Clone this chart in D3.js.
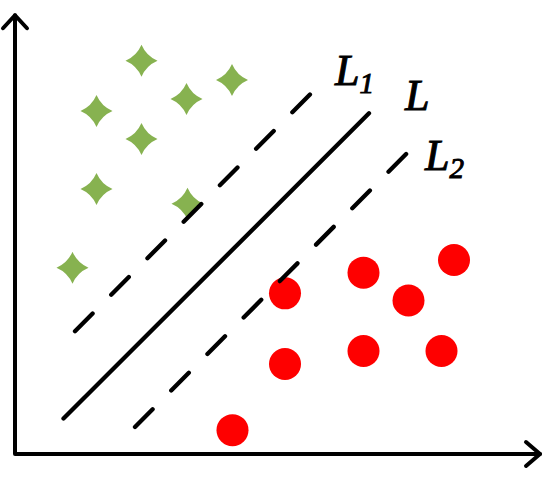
<html>
<head>
  <script src="https://cdnjs.cloudflare.com/ajax/libs/d3/7.8.5/d3.min.js"></script>
  <style>
    body { margin: 0; background: #fff; }
  </style>
</head>
<body>
  <svg id="chart" width="550" height="478"></svg>
  <script>
    // class A (green stars)
    var starX = [2.53, 4.34, 3.43, 1.63, 2.53, 1.63, 3.45, 1.15];
    var starY = [8.74, 8.31, 7.89, 7.62, 7.00, 5.89, 5.56, 4.14];
    // class B (red dots)
    var dotX = [5.40, 6.97, 5.40, 6.97, 4.35, 7.87, 8.78, 8.53];
    var dotY = [3.57, 4.03, 2.00, 2.29, 0.53, 3.41, 4.31, 2.29];
    // separating lines
    var lineNames = ["L1", "L", "L2"];
    var lineX1 = [1.20, 0.97, 2.40];
    var lineY1 = [2.73, 0.79, 0.60];
    var lineX2 = [5.92, 7.08, 7.86];
    var lineY2 = [8.01, 7.57, 6.71];
    var labelX = [6.40, 7.80, 8.20];
    var labelY = [8.20, 7.64, 6.31];
    var axisMaxX = 10.5, axisMaxY = 9.75;

    var svg = d3.select("#chart");
    var x = d3.scaleLinear().domain([0, 10]).range([15, 515]);
    var y = d3.scaleLinear().domain([0, 10]).range([454, 4]);

    // axes with arrow heads
    var axes = svg.append("g")
      .attr("fill", "none")
      .attr("stroke", "black")
      .attr("stroke-width", 4)
      .attr("stroke-linecap", "round")
      .attr("stroke-linejoin", "round");
    axes.append("path")
      .attr("d", "M" + x(0) + "," + y(0) + "V" + y(axisMaxY) + "M" + x(0) + "," + y(0) + "H" + x(axisMaxX));
    axes.append("path")
      .attr("d", "M" + (x(0) - 12) + "," + (y(axisMaxY) + 13) + "L" + x(0) + "," + y(axisMaxY) + "L" + (x(0) + 12) + "," + (y(axisMaxY) + 13));
    axes.append("path")
      .attr("d", "M" + (x(axisMaxX) - 14) + "," + (y(0) - 12) + "L" + x(axisMaxX) + "," + y(0) + "L" + (x(axisMaxX) - 14) + "," + (y(0) + 12));

    // four pointed star symbol
    var star4 = {
      draw: function (ctx, size) {
        var R = Math.sqrt(size), k = R * 0.3;
        ctx.moveTo(0, -R);
        ctx.quadraticCurveTo(k, -k, R, 0);
        ctx.quadraticCurveTo(k, k, 0, R);
        ctx.quadraticCurveTo(-k, k, -R, 0);
        ctx.quadraticCurveTo(-k, -k, 0, -R);
        ctx.closePath();
      }
    };

    svg.append("g").selectAll("path")
      .data(starX)
      .enter()
      .append("path")
      .attr("d", d3.symbol().type(star4).size(16 * 16))
      .attr("transform", (d, i) => "translate(" + x(d) + "," + y(starY[i]) + ")")
      .attr("fill", "#87b250");

    svg.append("g").selectAll("circle")
      .data(dotX)
      .enter()
      .append("circle")
      .attr("cx", d => x(d))
      .attr("cy", (d, i) => y(dotY[i]))
      .attr("r", 16)
      .attr("fill", "#fe0000");

    svg.append("g").selectAll("line")
      .data(lineNames)
      .enter()
      .append("line")
      .attr("x1", (d, i) => x(lineX1[i]))
      .attr("y1", (d, i) => y(lineY1[i]))
      .attr("x2", (d, i) => x(lineX2[i]))
      .attr("y2", (d, i) => y(lineY2[i]))
      .attr("stroke", "black")
      .attr("stroke-width", 4.3)
      .attr("stroke-linecap", "round")
      .attr("stroke-dasharray", d => d == "L" ? null : "25,26.4");

    var labels = svg.append("g").selectAll("text")
      .data(lineNames)
      .enter()
      .append("text")
      .attr("x", (d, i) => x(labelX[i]))
      .attr("y", (d, i) => y(labelY[i]))
      .attr("font-family", "Liberation Serif, serif")
      .attr("font-style", "italic")
      .attr("font-size", 44)
      .attr("fill", "black")
      .attr("stroke", "black")
      .attr("stroke-width", 1);
    labels.append("tspan").text(d => d.charAt(0));
    labels.filter(d => d.length > 1)
      .append("tspan")
      .attr("dy", 8)
      .attr("font-size", 29)
      .text(d => d.slice(1));
  </script>
</body>
</html>
